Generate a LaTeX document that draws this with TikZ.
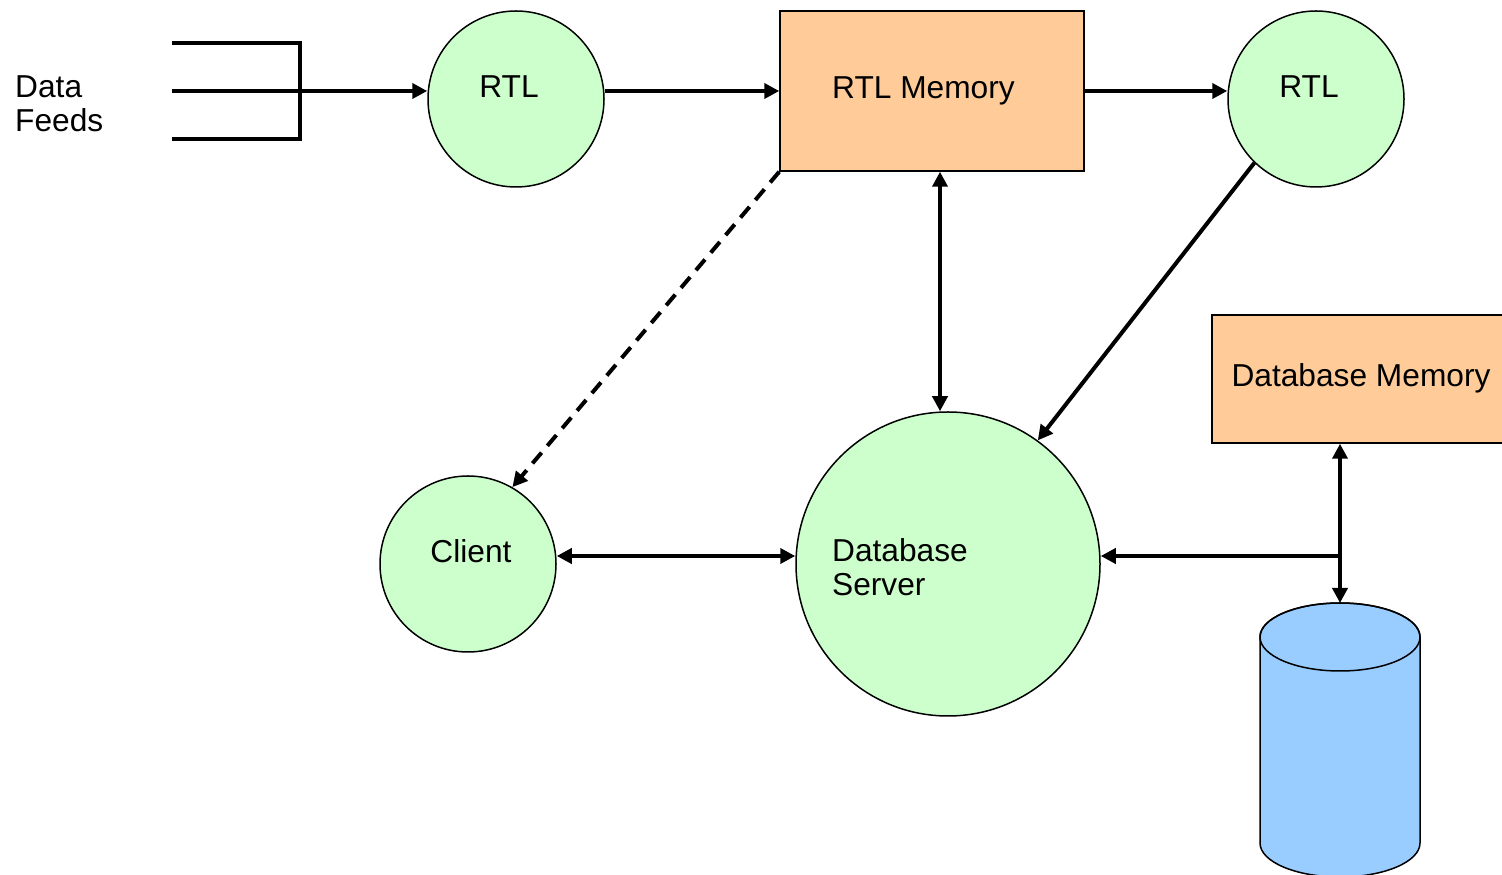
\documentclass[tikz,border=0pt]{standalone}
\usepackage{fontspec}
\setmainfont{Liberation Sans}
\usetikzlibrary{arrows.meta}
\definecolor{procgreen}{HTML}{CCFFCC}
\definecolor{memorange}{HTML}{FFCC99}
\definecolor{diskblue}{HTML}{99CCFF}
\begin{document}
\begin{tikzpicture}[x=1pt, y=1pt,
        every node/.style = {font=\fontsize{31.7}{34}\selectfont},
        proc/.style = {circle, draw, line width=1.5pt, fill=procgreen, inner sep=0pt},
        memory/.style = {rectangle, draw, line width=1.5pt, fill=memorange, inner sep=0pt},
        flow/.style = {line width=4pt, -{Triangle[length=15pt, width=15pt]}},
        both/.style = {line width=4pt, {Triangle[length=15pt, width=15pt]}-{Triangle[length=15pt, width=15pt]}}]
    \useasboundingbox (0,0) rectangle (1502,875);
    % processes and memories
    \node[proc, minimum size=176pt, label={[shift={(-7pt,12pt)}]center:RTL}] (rtlin) at (516,776) {};
    \node[memory, minimum width=304pt, minimum height=160pt,
          label={[shift={(-8.5pt,0pt)}]center:RTL Memory}] (rtlmem) at (932,784) {};
    \node[proc, minimum size=176pt, label={[shift={(-7pt,12pt)}]center:RTL}] (rtlout) at (1316,776) {};
    \node[proc, minimum size=176pt, label={[shift={(3pt,13pt)}]center:Client}] (client) at (468,311) {};
    \node[proc, minimum size=304pt,
          label={[align=left, shift={(-48pt,-3.5pt)}]center:Database\\Server}] (server) at (948,311) {};
    \node[memory, minimum width=292pt, minimum height=128pt,
          label={[shift={(3pt,0.7pt)}]center:Database Memory}] (dbmem) at (1358,496) {};
    \node[anchor=west, align=left, inner sep=0pt] (feeds) at (15,771) {Data\\Feeds};
    % disk
    \filldraw[fill=diskblue, line width=1.5pt] (1260,238) -- (1260,32)
        arc[start angle=180, end angle=360, x radius=80, y radius=34] -- (1420,238)
        arc[start angle=0, end angle=180, x radius=80, y radius=34] -- cycle;
    \draw[line width=1.5pt] (1340,238) ellipse [x radius=80, y radius=34];
    \coordinate (disk) at (1340,272);
    \coordinate (tee) at (1340,319);
    \coordinate (feed) at (172,784);
    % feed lines
    \draw[line width=4pt] (172,832) -- (300,832) -- (300,736) -- (172,736);
    \draw[flow] (feed) -- (feed -| rtlin.west);
    \draw[flow] (rtlin.east |- rtlmem.west) -- (rtlmem.west);
    \draw[flow] (rtlmem.east) -- (rtlout.west |- rtlmem.east);
    \draw[flow, dash pattern=on 14pt off 9pt] (rtlmem.south west) -- (client.60);
    \draw[both] ([xshift=8pt]rtlmem.south) -- ([xshift=-8pt]server.north);
    \draw[flow] (rtlout.226) -- (server.54);
    \draw[both] ([yshift=8pt]client.east) -- ([yshift=8pt]server.west);
    \draw[both] (disk |- dbmem.south) -- (disk);
    \draw[flow] (tee) -- ([yshift=8pt]server.east);
\end{tikzpicture}
\end{document}
